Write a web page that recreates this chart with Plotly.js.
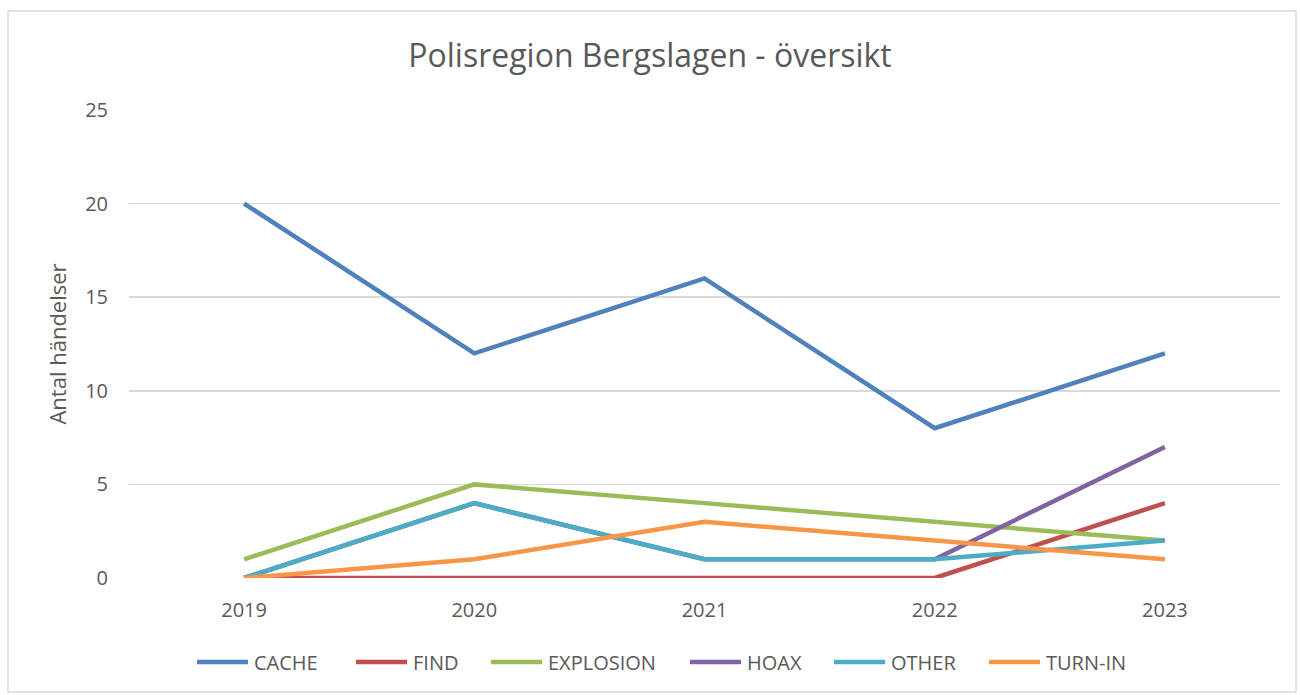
<!DOCTYPE html>
<html>
<head>
<meta charset="utf-8">
<script src="https://cdn.plot.ly/plotly-3.0.1.min.js"></script>
<style>html,body{margin:0;padding:0;background:#fff;}#chart{width:1300px;height:695px;}</style>
</head>
<body>
<div id="chart"></div>
<script>
const years = ['2019', '2020', '2021', '2022', '2023'];
const cache = [20, 12, 16, 8, 12];
const find = [0, 0, 0, 0, 4];
const explosion = [1, 5, 4, 3, 2];
const hoax = [0, 4, 1, 1, 7];
const other = [0, 4, 1, 1, 2];
const turnIn = [0, 1, 3, 2, 1];
const seriesNames = ['CACHE', 'FIND', 'EXPLOSION', 'HOAX', 'OTHER', 'TURN-IN'];
const seriesValues = [cache, find, explosion, hoax, other, turnIn];
const colors = ['#4F81BD', '#C0504D', '#9BBB59', '#8064A2', '#4BACC6', '#F79646'];
const yTicks = [0, 5, 10, 15, 20, 25];

const font = 'Open Sans, Noto Sans, sans-serif';
const W = 1300, H = 695, ML = 129, MR = 20, MT = 110, MB = 117;
const PW = W - ML - MR, PH = H - MT - MB;
const px2x = p => (p - ML) / PW;
const px2y = p => (H - MB - p) / PH;

const traces = seriesNames.map((n, i) => ({
  x: years, y: seriesValues[i], name: n, type: 'scatter', mode: 'lines',
  line: {color: colors[i], width: 4.5}, showlegend: false
}));

// Legend drawn as swatch lines + text, laid out like the original
const legendStart = [195, 354, 489, 688, 832, 987];
const legendY = 662;
const shapes = [{type: 'rect', xref: 'paper', yref: 'paper',
  x0: px2x(8), x1: px2x(1296), y0: px2y(692), y1: px2y(11),
  line: {color: '#d9d9d9', width: 1.5}, fillcolor: 'rgba(0,0,0,0)', layer: 'below'}];
const annotations = [];
seriesNames.forEach((n, i) => {
  shapes.push({type: 'line', xref: 'paper', yref: 'paper',
    x0: px2x(legendStart[i] + 2), x1: px2x(legendStart[i] + 53), y0: px2y(legendY), y1: px2y(legendY),
    line: {color: colors[i], width: 4.5}});
  annotations.push({xref: 'paper', yref: 'paper', x: px2x(legendStart[i] + 57), y: px2y(legendY),
    xanchor: 'left', yanchor: 'middle', showarrow: false, text: n,
    font: {family: font, size: 20, color: '#595959'}});
});

const layout = {
  width: W, height: H,
  paper_bgcolor: '#fff', plot_bgcolor: '#fff',
  margin: {l: ML, r: MR, t: MT, b: MB},
  title: {text: 'Polisregion Bergslagen - översikt', x: 0.5, xanchor: 'center', y: 0.92, yanchor: 'middle',
          font: {family: font, size: 32, color: '#595959'}},
  font: {family: font, color: '#595959'},
  xaxis: {type: 'category', range: [-0.5, 4.5], showgrid: false, zeroline: false, showline: false,
          ticks: '', ticklabelstandoff: 18, tickfont: {size: 20, color: '#595959'}},
  yaxis: {range: [0, 25], tickvals: yTicks, showgrid: true, gridcolor: '#d9d9d9', gridwidth: 1.5,
          zeroline: false, showline: false, ticks: '', ticklen: 0, ticklabelstandoff: 20,
          tickfont: {size: 20, color: '#595959'},
          title: {text: 'Antal händelser', font: {size: 22, color: '#595959'}, standoff: 12}},
  showlegend: false,
  shapes: shapes,
  annotations: annotations
};
Plotly.newPlot('chart', traces, layout, {displayModeBar: false, staticPlot: true});
</script>
</body>
</html>
